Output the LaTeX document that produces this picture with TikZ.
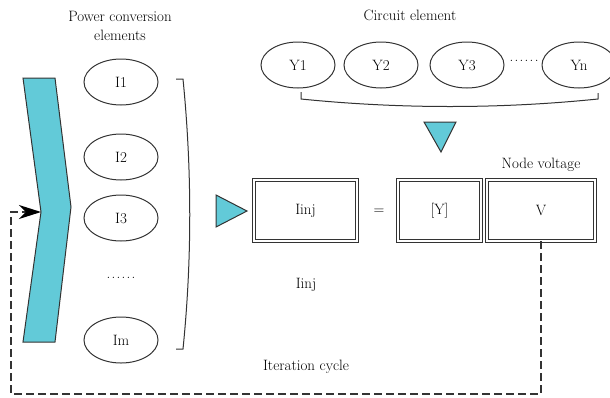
\documentclass[tikz,border=0pt]{standalone}
\usetikzlibrary{shapes.geometric, arrows.meta, positioning}
\definecolor{CYA}{HTML}{62CAD8}
\definecolor{EDG}{HTML}{333333}
\tikzset{
  ELEM/.style={% Style for element ellipses
      ellipse,
      draw=EDG, line width=1pt,
      minimum width=74pt,
      minimum height=46pt,
      inner sep=0pt,
  },
  DBOX/.style={% Style for double framed boxes
      rectangle,
      draw=EDG, line width=0.9pt,
      double, double distance=2.6pt,
      minimum height=61pt,
      inner sep=0pt,
  },
  TRI/.style={fill=CYA, draw=EDG, line width=1pt, line join=miter},
  LOOP/.style={draw=EDG, line width=1.2pt, dash pattern=on 8pt off 4pt},
}
\def\dotrow{.\kern1.3pt.\kern1.3pt.\kern1.3pt.\kern1.3pt.\kern1.3pt.}% spaced dots

\begin{document}
\begin{tikzpicture}[x=1pt, y=-1pt, font=\fontsize{15}{19}\selectfont]
    \useasboundingbox (0,0) rectangle (610,397);
    \clip (0,0) rectangle (610,397);
    % titles
    \node[align=center] (TitleI) at (120,26) {Power conversion\\elements};
    \node (TitleY) at (410,15) {Circuit element};
    % power conversion elements
    \foreach \id/\y in {1/82, 2/157, 3/218, m/340} {%
        \node[ELEM] (I\id) at (121,\y) {I\id};
    }
    \node (Idots) at (121,278) {\dotrow};
    \draw[EDG, line width=1pt] (176,79) -- (183,79)
        .. controls (192,170) and (192,260) .. (183,349) -- (176,349);
    % circuit elements
    \foreach \id/\x in {1/298, 2/381, 3/467, n/579} {%
        \node[ELEM] (Y\id) at (\x,65) {Y\id};
    }
    \node (Ydots) at (524,61) {\dotrow};
    \draw[EDG, line width=1pt] (301,92) -- (301,99)
        .. controls (400,109) and (500,109) .. (598,99) -- (598,93);
    % markers
    \draw[TRI] (23,78) -- (55,78) -- (71,207) -- (55,342) -- (23,342) -- (41,212) -- cycle;
    \draw[TRI] (424,122) -- (456,122) -- (441,152) -- cycle;
    \draw[TRI] (216,195) -- (247,211) -- (216,227) -- cycle;
    \coordinate (notch) at (41,212);
    % equation
    \node[DBOX, minimum width=103pt] (Iinj) at (305.5,210.5) {Iinj};
    \node (eq) at (379,212) {=};
    \node[DBOX, minimum width=83pt] (Ymat) at (439.5,210.5) {[Y]};
    \node[DBOX, minimum width=108pt] (Vvec) at (541,210.5) {V};
    \node (NV) at (541,165) {Node voltage};
    \node (IinjLbl) at (306,285) {Iinj};
    \node (IC) at (306,367) {Iteration cycle};
    % iteration loop
    \draw[LOOP, -{Stealth[length=22pt, width=14pt, inset=7pt, black]}]
      (Vvec.south) |- (11,394) |- (notch);
\end{tikzpicture}
\end{document}
